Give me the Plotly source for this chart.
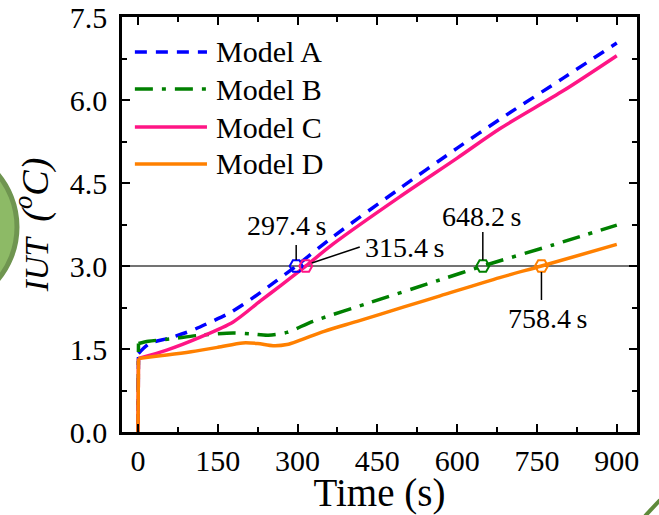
import plotly.graph_objects as go

# Indoor temperature rise (IUT) against time for four models
time_a = [0, 1, 22, 60, 100, 135, 170, 197, 230, 260, 297.4, 367, 492, 600, 680, 800, 900]
iut_a = [0, 1.42, 1.60, 1.70, 1.83, 1.98, 2.14, 2.30, 2.52, 2.73, 3.00, 3.53, 4.40, 5.13, 5.65, 6.40, 7.03]

time_b = [0, 1, 20, 60, 117, 179, 215, 245, 280, 329, 430, 568, 648.2, 780, 900]
iut_b = [0, 1.60, 1.64, 1.68, 1.75, 1.79, 1.77, 1.75, 1.80, 2.00, 2.32, 2.75, 3.00, 3.38, 3.74]

time_c = [0, 1, 54, 116, 179, 229, 270, 315.4, 367, 492, 600, 680, 800, 900]
iut_c = [0, 1.33, 1.48, 1.71, 1.99, 2.36, 2.66, 3.00, 3.40, 4.25, 4.95, 5.48, 6.17, 6.80]

time_d = [0, 1, 54, 100, 150, 197, 225, 254, 280, 305, 350, 412, 500, 568, 680, 758.4, 900]
iut_d = [0, 1.33, 1.39, 1.45, 1.53, 1.61, 1.60, 1.56, 1.58, 1.66, 1.82, 2.00, 2.26, 2.46, 2.79, 3.00, 3.39]

model_names = ["Model A", "Model B", "Model C", "Model D"]
model_colors = ["#0000FF", "#008000", "#FF1585", "#FF8000"]
model_dashes = ["12px,9px", "18px,9px,4px,9px", "solid", "solid"]

# Threshold and the time each model reaches it
threshold = 3.0
cross_times = [297.4, 648.2, 315.4, 758.4]

x_ticks = [0, 150, 300, 450, 600, 750, 900]
y_ticks = [0.0, 1.5, 3.0, 4.5, 6.0, 7.5]

FONT = "Liberation Serif"

fig = go.Figure()

series = [(time_a, iut_a), (time_b, iut_b), (time_c, iut_c), (time_d, iut_d)]
for (t, v), name, color, dash in zip(series, model_names, model_colors, model_dashes):
    # start-up step drawn straight, the rest as a smooth curve
    fig.add_trace(go.Scatter(
        x=t[:2], y=v[:2], mode="lines", name=name, showlegend=False,
        line=dict(color=color, width=3.5, dash=dash),
    ))
    fig.add_trace(go.Scatter(
        x=t[1:], y=v[1:], mode="lines", name=name, showlegend=False,
        line=dict(color=color, width=3.5, dash=dash, shape="spline", smoothing=0.8),
    ))

fig.add_trace(go.Scatter(
    x=cross_times, y=[threshold] * len(cross_times), mode="markers", showlegend=False,
    marker=dict(symbol="hexagon2-open", size=13, color=model_colors,
                line=dict(width=2, color=model_colors)),
))

shapes = [
    dict(type="line", xref="paper", yref="y", x0=0, x1=1, y0=threshold, y1=threshold,
         line=dict(color="#444444", width=1.5), layer="below"),
]

# Leader lines (pixel offsets from each crossing point) and label placement
leaders = [
    ((0, 6), (0, 21)),
    ((0, 6), (0, 34)),
    ((6, 3), (54, 19)),
    ((0, -6), (0, -34)),
]
label_shift = [(-9, 41), (-1, 50), (99, 19), (7, -52)]

annotations = []
for t, (p0, p1), (sx, sy) in zip(cross_times, leaders, label_shift):
    shapes.append(dict(
        type="line", xref="x", yref="y", xsizemode="pixel", ysizemode="pixel",
        xanchor=t, yanchor=threshold, x0=p0[0], y0=p0[1], x1=p1[0], y1=p1[1],
        line=dict(color="black", width=1.5),
    ))
    annotations.append(dict(
        x=t, y=threshold, xref="x", yref="y", text=f"{t}\u2009s", showarrow=False,
        xshift=sx, yshift=sy, font=dict(family=FONT, size=28, color="black"),
    ))

# Legend drawn as long line samples with labels
leg_y = [0.9157, 0.8265, 0.7349, 0.6458]
for name, color, dash, yy in zip(model_names, model_colors, model_dashes, leg_y):
    shapes.append(dict(type="line", xref="paper", yref="paper", x0=0.025, x1=0.165,
                       y0=yy, y1=yy, line=dict(color=color, width=3.5, dash=dash)))
    annotations.append(dict(x=0.178, y=yy, xref="paper", yref="paper", text=name,
                            showarrow=False, xanchor="left", yanchor="middle",
                            font=dict(family=FONT, size=30, color="black")))

# Green decorative elements at the page edges
shapes.append(dict(type="circle", xref="paper", yref="paper",
                   x0=-0.5223, x1=-0.2039, y0=0.2964, y1=0.6916,
                   line=dict(color="#6F9550", width=5), fillcolor="#8DBA66", layer="above"))
shapes.append(dict(type="line", xref="paper", yref="paper",
                   x0=(645 - 122) / 515, y0=(432 - 516) / 415,
                   x1=(660 - 122) / 515, y1=(432 - 500) / 415,
                   line=dict(color="#5E8A3A", width=4)))

axis_common = dict(
    showline=True, linecolor="black", linewidth=2.5, mirror="ticks",
    ticks="inside", ticklen=8, tickwidth=2, tickcolor="black",
    showgrid=False, zeroline=False, automargin=False,
    tickfont=dict(family=FONT, size=30, color="black"),
)

fig.update_xaxes(
    range=[-30, 938], tickvals=x_ticks,
    minor=dict(ticks="inside", ticklen=5, tickwidth=2, dtick=75, tick0=0, tickcolor="black"),
    title=dict(text="Time (s)", font=dict(family=FONT, size=39, color="black"), standoff=9),
    **axis_common,
)
fig.update_yaxes(
    range=[0, 7.5], tickvals=y_ticks, tickformat=".1f",
    minor=dict(ticks="inside", ticklen=5, tickwidth=2, dtick=0.75, tick0=0, tickcolor="black"),
    title=dict(text="<i>IUT</i>\u2002<span style='font-size:38px'><i>(<sup>o</sup>C)</i></span>",
               font=dict(family=FONT, size=33, color="black"), standoff=12),
    ticklabelstandoff=6,
    **axis_common,
)

fig.update_layout(
    width=659, height=515,
    margin=dict(l=122, r=22, t=17, b=83),
    paper_bgcolor="white", plot_bgcolor="white",
    shapes=shapes, annotations=annotations, showlegend=False,
)

fig.write_html("out.html")
